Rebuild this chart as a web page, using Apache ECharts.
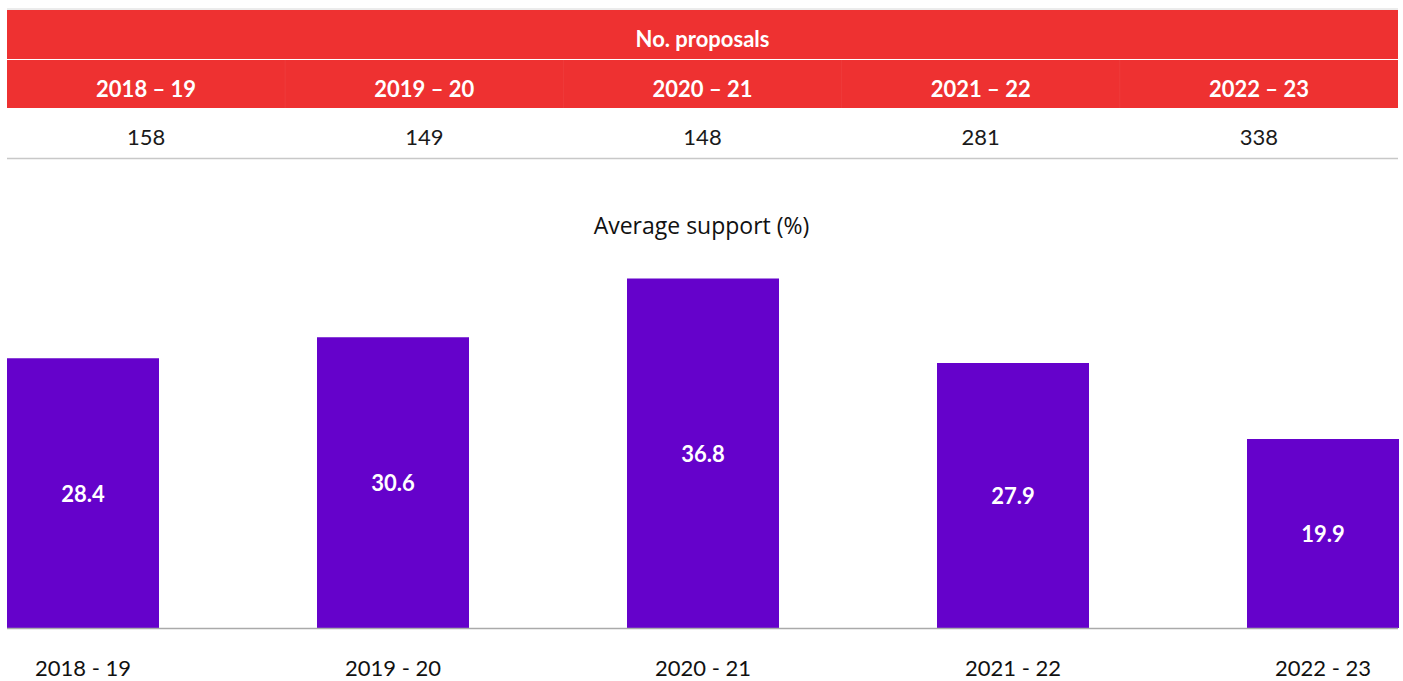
<!DOCTYPE html>
<html><head><meta charset="utf-8">
<script src="https://cdn.jsdelivr.net/npm/echarts@6/dist/echarts.min.js"></script>
<style>html,body{margin:0;padding:0;background:#fff}#c{width:1403px;height:681px}</style>
</head><body><div id="c"></div>
<script>
const tableTitle = 'No. proposals';
const chartTitle = 'Average support (%)';
const headerYears = ['2018 – 19', '2019 – 20', '2020 – 21', '2021 – 22', '2022 – 23'];
const proposals = [158, 149, 148, 281, 338];
const categories = ['2018 - 19', '2019 - 20', '2020 - 21', '2021 - 22', '2022 - 23'];
const support = [28.4, 30.6, 36.8, 27.9, 19.9];

const FONT = 'Lato, "Open Sans", sans-serif';
const RED = '#EE3131';
const PURPLE = '#6502CB';
const tLeft = 7, tWidth = 1391, colW = tWidth / headerYears.length;

const g = [];
g.push({type:'line', shape:{x1:tLeft,y1:9,x2:tLeft+tWidth,y2:9}, style:{stroke:'#d8d8d8',lineWidth:1}});
g.push({type:'rect', shape:{x:tLeft,y:10,width:tWidth,height:98}, style:{fill:RED}});
g.push({type:'line', shape:{x1:tLeft,y1:59.5,x2:tLeft+tWidth,y2:59.5}, style:{stroke:'#ffffff',lineWidth:1}});
g.push({type:'text', x:tLeft+tWidth/2, y:38, style:{text:tableTitle, fill:'#fff', font:'bold 22px '+FONT, textAlign:'center', textVerticalAlign:'middle'}});
headerYears.forEach((h,i)=>{
  const cx = tLeft + colW*i + colW/2;
  if (i>0) g.push({type:'line', shape:{x1:tLeft+colW*i,y1:60,x2:tLeft+colW*i,y2:108}, style:{stroke:'rgba(255,255,255,0.05)',lineWidth:1}});
  g.push({type:'text', x:cx, y:88, style:{text:h, fill:'#fff', font:'bold 22px '+FONT, textAlign:'center', textVerticalAlign:'middle'}});
  g.push({type:'text', x:cx, y:136, style:{text:String(proposals[i]), fill:'#1a1a1a', font:'22px '+FONT, textAlign:'center', textVerticalAlign:'middle'}});
});
g.push({type:'line', shape:{x1:tLeft,y1:158.5,x2:tLeft+tWidth,y2:158.5}, style:{stroke:'#c8c8c8',lineWidth:1.5}});
g.push({type:'line', shape:{x1:tLeft,y1:628.5,x2:tLeft+tWidth,y2:628.5}, style:{stroke:'#aaaaaa',lineWidth:1.5}, z:10});

const chart = echarts.init(document.getElementById('c'), null, {renderer:'svg'});
chart.setOption({
  animation:false,
  title:{text:chartTitle, left:'center', top:208, textStyle:{fontFamily:'"Open Sans", sans-serif', fontSize:23, fontWeight:'normal', color:'#111'}},
  grid:{left:83, right:80, top:248, bottom:53},
  xAxis:{type:'category', data:categories, boundaryGap:false,
    axisLine:{show:false}, axisTick:{show:false},
    axisLabel:{fontFamily:FONT, fontSize:22, color:'#111', margin:28}},
  yAxis:{type:'value', min:0, max:40, show:false, splitLine:{show:false}},
  series:[{type:'bar', data:support, barWidth:152, itemStyle:{color:PURPLE},
    label:{show:true, position:'inside', color:'#fff', fontFamily:FONT, fontSize:22, fontWeight:'bold'}}],
  graphic:g
});
</script></body></html>
